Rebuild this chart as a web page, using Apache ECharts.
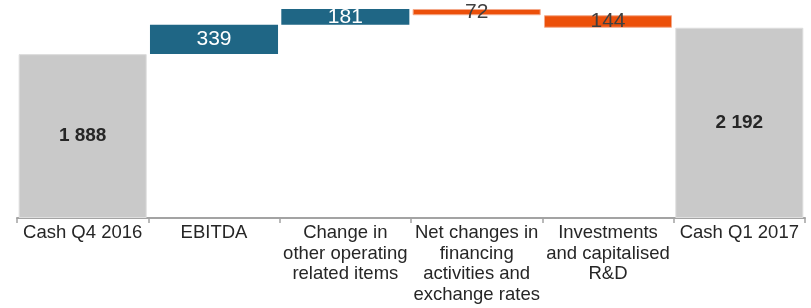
<!DOCTYPE html>
<html>
<head>
<meta charset="utf-8">
<script src="https://cdn.jsdelivr.net/npm/echarts@6/dist/echarts.min.js"></script>
<style>
  html, body { margin: 0; padding: 0; background: #fff; }
  #chart { width: 811px; height: 308px; }
</style>
</head>
<body>
<div id="chart"></div>
<script>
// 现金流瀑布图数据
var categories = [
    'Cash Q4 2016',
    'EBITDA',
    'Change in\nother operating\nrelated items',
    'Net changes in\nfinancing\nactivities and\nexchange rates',
    'Investments\nand capitalised\nR&D',
    'Cash Q1 2017'
];
var values = [1888, 339, 181, -72, -144, 2192];
var isTotal = [true, false, false, false, false, true];

var COLOR_TOTAL = '#c9c9c9',
    COLOR_UP = '#1f6685',
    COLOR_DOWN = '#ec500a';

function fmt(v) {
    // 千位用空格分隔: 1888 -> "1 888"
    return String(Math.abs(v)).replace(/\B(?=(\d{3})+(?!\d))/g, ' ');
}

var baseData = [], barData = [], running = 0;
for (var i = 0; i < values.length; i++) {
    var v = values[i], item;
    if (isTotal[i]) {
        baseData.push(0);
        running = v;
        item = {
            value: v,
            itemStyle: { color: COLOR_TOTAL, borderColor: '#dedede', borderWidth: 1 },
            label: {
                color: '#262626',
                fontWeight: 'bold',
                fontSize: 19
            }
        };
    } else if (v >= 0) {
        baseData.push(running);
        running += v;
        item = {
            value: v,
            itemStyle: { color: COLOR_UP },
            label: { color: '#ffffff' }
        };
    } else {
        running += v;
        baseData.push(running);
        item = {
            value: -v,
            itemStyle: { color: COLOR_DOWN, borderColor: '#f4a98a', borderWidth: 1 },
            label: { color: '#404040' }
        };
    }
    item.raw = v;
    barData.push(item);
}

var chart = echarts.init(document.getElementById('chart'));
chart.setOption({
    animation: false,
    grid: { left: 17, right: 6, top: 1, bottom: 90 },
    xAxis: {
        type: 'category',
        data: categories,
        axisLine: { lineStyle: { color: '#a3a3a3', width: 2 } },
        axisTick: { show: true, length: 5, lineStyle: { color: '#a3a3a3', width: 1.5 } },
        axisLabel: {
            interval: 0,
            margin: 5,
            color: '#262626',
            fontSize: 18.5,
            lineHeight: 20.5,
            fontFamily: "'Liberation Sans', Arial, sans-serif"
        }
    },
    yAxis: {
        type: 'value',
        min: 0,
        max: 2500,
        show: false,
        splitLine: { show: false }
    },
    series: [
        {
            type: 'bar',
            stack: 'wf',
            silent: true,
            itemStyle: { color: 'transparent' },
            data: baseData,
            barCategoryGap: '2.5%'
        },
        {
            type: 'bar',
            stack: 'wf',
            barCategoryGap: '2.5%',
            label: {
                show: true,
                position: 'inside',
                fontSize: 21,
                fontFamily: "'Liberation Sans', Arial, sans-serif",
                formatter: function (p) { return fmt(p.data.raw); }
            },
            data: barData
        }
    ]
});
</script>
</body>
</html>
